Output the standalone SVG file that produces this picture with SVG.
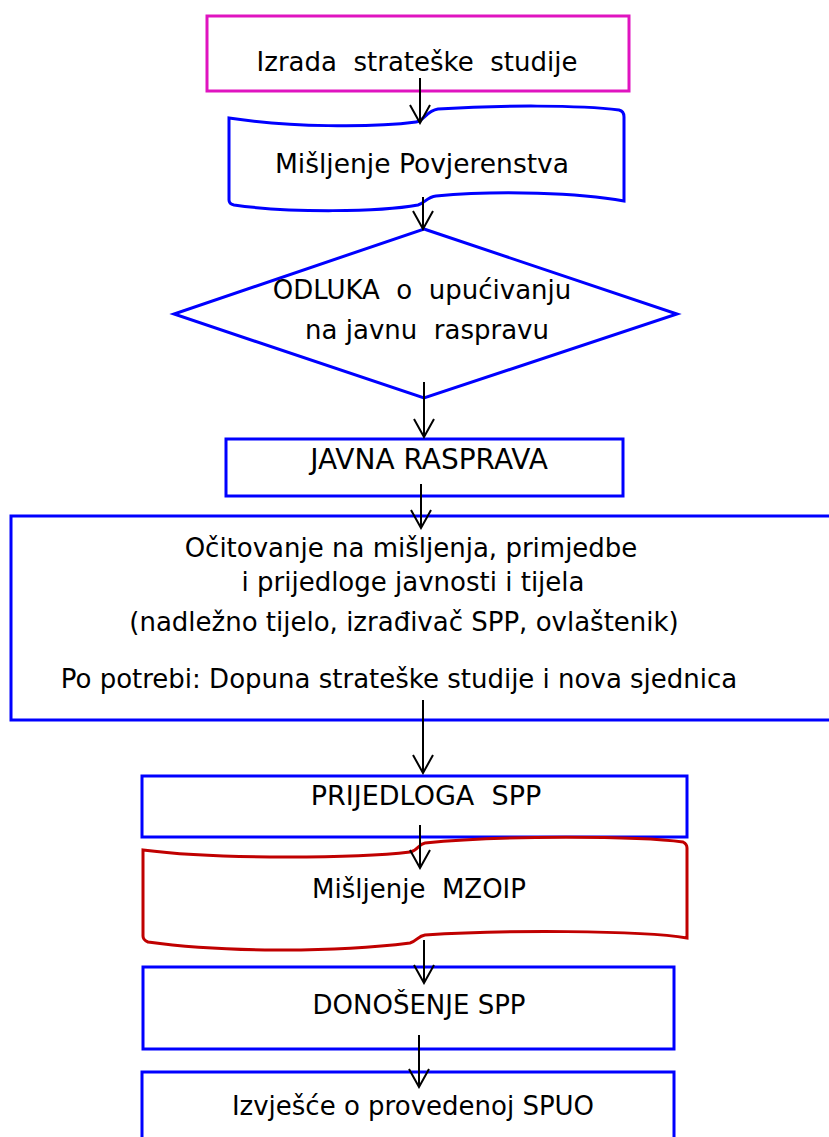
<svg xmlns="http://www.w3.org/2000/svg" width="829" height="1137" viewBox="0 0 829 1137">
<style>
  .t { font-family: "DejaVu Sans", "Liberation Sans", sans-serif; font-size: 26px; fill: #000; text-anchor: middle; white-space: pre; }
  .blue { fill: #fff; stroke: #0000ff; stroke-width: 3; }
  .mag { fill: #fff; stroke: #e014c0; stroke-width: 3; }
  .red { fill: #fff; stroke: #c00000; stroke-width: 3; }
  .con { stroke: #000; stroke-width: 2; fill: none; }
</style>
<defs>
  <marker id="arr" viewBox="-20 -12 22 24" markerWidth="22" markerHeight="24" markerUnits="userSpaceOnUse" refX="0" refY="0" orient="auto">
    <path d="M-18,-10 L0,0 L-18,10" fill="none" stroke="#000" stroke-width="2"/>
  </marker>
</defs>
<rect width="829" height="1137" fill="#fff"/>

<g id="n1">
  <rect class="mag" x="207" y="16" width="422" height="75"/>
  <text class="t" x="417" y="71">Izrada  strateške  studije</text>
</g>
<g id="n2">
  <path class="blue" d="M229,118 C290,127 370,128 416,122 C424,121 426,111 438,109 C500,105 580,105 619,110 Q624,111 624,117 L624,201 C580,193 500,190 436,196 C427,197 425,203 418,205 C380,212 290,213 234,205 Q229,204 229,200 Z"/>
  <text class="t" x="422" y="173" style="font-size:26.5px">Mišljenje Povjerenstva</text>
</g>
<g id="n3">
  <polygon class="blue" points="424,229 677,314 424,398 174,314"/>
  <text class="t" x="422" y="299">ODLUKA  o  upućivanju</text>
  <text class="t" x="427" y="339">na javnu  raspravu</text>
</g>
<g id="n4">
  <rect class="blue" x="226" y="439" width="397" height="57"/>
  <text class="t" x="429" y="469" style="font-size:28px">JAVNA RASPRAVA</text>
</g>
<g id="n5">
  <rect class="blue" x="11" y="516" width="840" height="204"/>
  <text class="t" x="411" y="557">Očitovanje na mišljenja, primjedbe</text>
  <text class="t" x="413" y="591">i prijedloge javnosti i tijela</text>
  <text class="t" x="404" y="631">(nadležno tijelo, izrađivač SPP, ovlaštenik)</text>
  <text class="t" x="399" y="688">Po potrebi: Dopuna strateške studije i nova sjednica</text>
</g>
<g id="n6">
  <rect class="blue" x="142" y="776" width="545" height="61"/>
  <text class="t" x="426" y="805" style="font-size:27px">PRIJEDLOGA  SPP</text>
</g>
<g id="n7">
  <path class="red" d="M143,850 C220,860 360,858 410,852 C418,851 418,844 425,843 C500,835 640,836 683,842 Q687,844 687,848 L687,938 C640,930 500,930 425,935 C418,936 417,941 410,943 C330,953 220,952 148,942 Q143,940 143,936 Z"/>
  <text class="t" x="419" y="898">Mišljenje  MZOIP</text>
</g>
<g id="n8">
  <rect class="blue" x="143" y="967" width="531" height="82"/>
  <text class="t" x="419" y="1014">DONOŠENJE SPP</text>
</g>
<g id="n9">
  <rect class="blue" x="142" y="1072" width="532" height="90"/>
  <text class="t" x="413" y="1115">Izvješće o provedenoj SPUO</text>
</g>

<g id="connectors">
  <line class="con" x1="420" y1="78" x2="420" y2="123" marker-end="url(#arr)"/>
  <line class="con" x1="423" y1="197" x2="423" y2="229" marker-end="url(#arr)"/>
  <line class="con" x1="424" y1="382" x2="424" y2="437" marker-end="url(#arr)"/>
  <line class="con" x1="421" y1="484" x2="421" y2="528" marker-end="url(#arr)"/>
  <line class="con" x1="423" y1="700" x2="423" y2="773" marker-end="url(#arr)"/>
  <line class="con" x1="420" y1="825" x2="420" y2="868" marker-end="url(#arr)"/>
  <line class="con" x1="424" y1="940" x2="424" y2="983" marker-end="url(#arr)"/>
  <line class="con" x1="419" y1="1035" x2="419" y2="1087" marker-end="url(#arr)"/>
</g>
</svg>
